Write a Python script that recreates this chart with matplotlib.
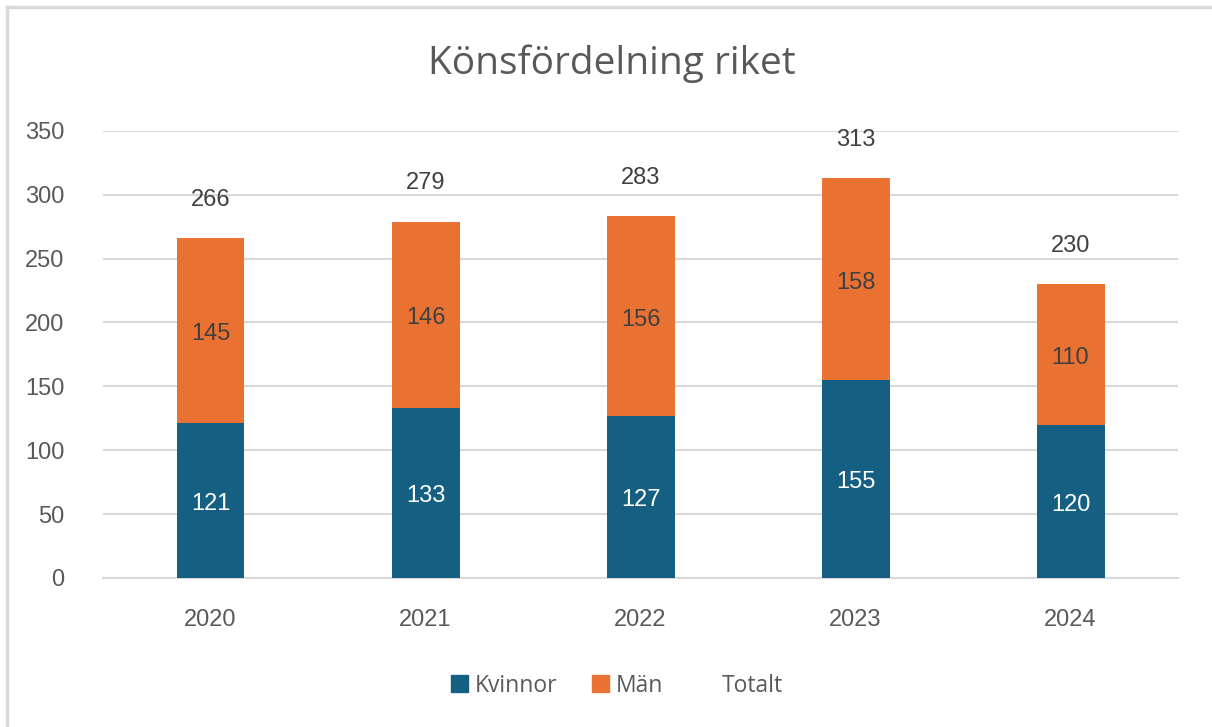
import matplotlib
matplotlib.use('Agg')
import matplotlib.pyplot as plt
from matplotlib.patches import Patch
from matplotlib.lines import Line2D

# data
years = ['2020', '2021', '2022', '2023', '2024']
kvinnor = [121, 133, 127, 155, 120]
man = [145, 146, 156, 158, 110]
totalt = [266, 279, 283, 313, 230]

blue = '#156082'
orange = '#E97132'
grid = '#D9D9D9'
txt = '#595959'

plt.rcParams['font.family'] = ['Liberation Sans', 'DejaVu Sans']

fig = plt.figure(figsize=(12.12, 7.27), dpi=100)
ax = fig.add_axes([0.085, 0.205, 0.887, 0.615])

x = range(len(years))
w = 0.316
ax.bar(x, kvinnor, width=w, color=blue, zorder=3, label='Kvinnor')
ax.bar(x, man, width=w, bottom=kvinnor, color=orange, zorder=3, label='Män')

# dataetiketter
for i in x:
    ax.annotate(str(kvinnor[i]), (i, kvinnor[i] / 2), xytext=(0, -2.5), textcoords='offset points',
                ha='center', va='center', color='white', fontsize=17, zorder=4)
    ax.annotate(str(man[i]), (i, kvinnor[i] + man[i] / 2), xytext=(0, -2.5), textcoords='offset points',
                ha='center', va='center', color='#404040', fontsize=17, zorder=4)
    ax.annotate(str(totalt[i]), (i, totalt[i]), xytext=(0, 27.5), textcoords='offset points',
                ha='center', va='center', color='#404040', fontsize=17, zorder=4)

ax.set_xlim(-0.5, len(years) - 0.5)
ax.set_ylim(0, 350)
ax.set_yticks(range(0, 351, 50))
ax.set_xticks(list(x))
ax.set_xticklabels(years)
ax.yaxis.grid(True, color=grid, linewidth=1.5, zorder=0)
for s in ['top', 'right', 'left']:
    ax.spines[s].set_visible(False)
ax.spines['bottom'].set_color(grid)
ax.spines['bottom'].set_linewidth(1.5)
ax.tick_params(axis='both', length=0, labelsize=17, labelcolor=txt)
ax.tick_params(axis='y', pad=28)
ax.tick_params(axis='x', pad=22)

fig.text(0.505, 0.912, 'Könsfördelning riket', ha='center', va='center',
         fontsize=28, color=txt, family=['Open Sans', 'DejaVu Sans'])

handles = [Patch(color=blue), Patch(color=orange), Patch(facecolor='none', edgecolor='none')]
fig.legend(handles, ['Kvinnor', 'Män', 'Totalt'], loc='center', bbox_to_anchor=(0.509, 0.057),
           ncol=3, frameon=False, handlelength=0.75, handleheight=0.75, handletextpad=0.3,
           columnspacing=1.5, prop={'family': 'Open Sans', 'size': 16.5}, labelcolor=txt)

# ram
fig.add_artist(Line2D([0.006, 1.0], [0.991, 0.991], color='#D9D9D9', lw=2.5))
fig.add_artist(Line2D([0.006, 0.006], [0.0, 0.991], color='#D9D9D9', lw=2.5))

fig.savefig('out.png', dpi=100)
